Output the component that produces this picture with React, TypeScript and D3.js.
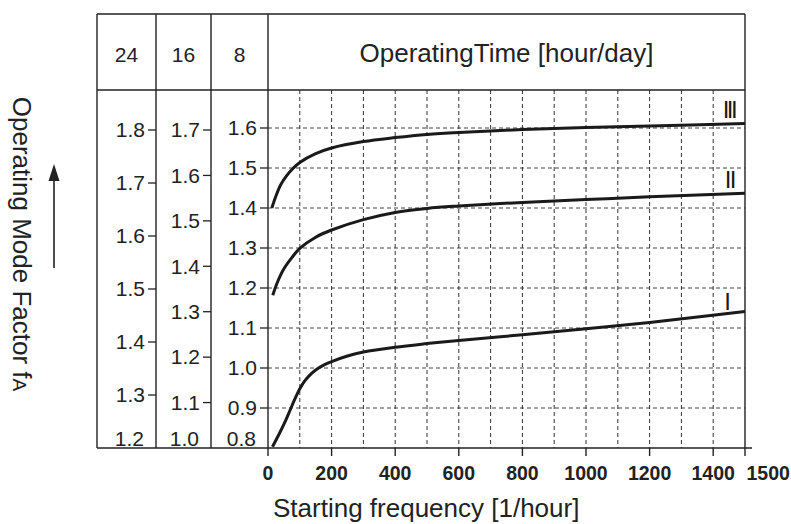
import React from "react";
import * as d3 from "d3";

// ---- data ----
const hoursColumns = ["24", "16", "8"];
const ticks24 = [1.2, 1.3, 1.4, 1.5, 1.6, 1.7, 1.8];
const ticks16 = [1.0, 1.1, 1.2, 1.3, 1.4, 1.5, 1.6, 1.7];
const ticks8 = [0.8, 0.9, 1.0, 1.1, 1.2, 1.3, 1.4, 1.5, 1.6];
const xLabelTicks = [0, 200, 400, 600, 800, 1000, 1200, 1400, 1500];
const xGridTicks = [100, 200, 300, 400, 500, 600, 700, 800, 900, 1000, 1100, 1200, 1300, 1400];

const freqI = [14, 35, 55, 75, 90, 100, 115, 130, 150, 175, 200, 250, 300, 400, 500, 600, 800, 1000, 1200, 1500];
const fI = [0.803, 0.835, 0.868, 0.905, 0.932, 0.948, 0.967, 0.981, 0.995, 1.007, 1.016, 1.03, 1.04, 1.052, 1.061, 1.069, 1.083, 1.098, 1.114, 1.141];
const freqII = [15, 30, 50, 75, 100, 150, 200, 300, 400, 500, 600, 800, 1000, 1200, 1500];
const fII = [1.182, 1.215, 1.248, 1.276, 1.299, 1.327, 1.345, 1.371, 1.389, 1.399, 1.405, 1.414, 1.421, 1.428, 1.437];
const freqIII = [12, 25, 40, 60, 80, 100, 150, 200, 300, 400, 500, 600, 800, 1000, 1200, 1500];
const fIII = [1.4, 1.43, 1.458, 1.482, 1.5, 1.514, 1.536, 1.55, 1.566, 1.576, 1.584, 1.589, 1.596, 1.601, 1.605, 1.611];
const curveNames = ["I", "II", "III"];

const FONT = "'Liberation Sans', Arial, Helvetica, sans-serif";

export default function App() {
  const W = 791, H = 524;
  const left = 97, top = 14, headerBottom = 90, bottom = 448;
  const col1 = 156, col2 = 211;
  const x = d3.scaleLinear().domain([0, 1500]).range([268, 745]);
  const plotL = x(0), plotR = x(1500);
  const y8 = d3.scaleLinear().domain([0.8, 1.6]).range([bottom, 128]);
  const y16 = d3.scaleLinear().domain([1.0, 1.7]).range([bottom, 130]);
  const y24 = d3.scaleLinear().domain([1.2, 1.8]).range([bottom, 130]);

  const line = d3
    .line<[number, number]>()
    .x((d) => x(d[0]))
    .y((d) => y8(d[1]))
    .curve(d3.curveCatmullRom.alpha(0.5));

  const curves = [
    { name: curveNames[0], pts: freqI.map((f, i) => [f, fI[i]] as [number, number]), lx: 731, ly: 310, ls: 0 },
    { name: curveNames[1], pts: freqII.map((f, i) => [f, fII[i]] as [number, number]), lx: 735, ly: 188, ls: -1.5 },
    { name: curveNames[2], pts: freqIII.map((f, i) => [f, fIII[i]] as [number, number]), lx: 735, ly: 118, ls: -2.6 },
  ];

  const axisCols = [
    { ticks: ticks24, scale: y24, right: col1 },
    { ticks: ticks16, scale: y16, right: col2 },
    { ticks: ticks8, scale: y8, right: plotL },
  ];
  const colCenters = [(left + col1) / 2, (col1 + col2) / 2, (col2 + plotL) / 2];
  const stroke = "#222";

  return (
    <svg width={W} height={H} style={{ position: "absolute", left: 0, top: 0, background: "#fff" }} fontFamily={FONT}>
      <rect x={0} y={0} width={W} height={H} fill="#fff" />
      {/* grid */}
      {ticks8.slice(1).map((t) => (
        <line key={"hg" + t} x1={plotL} x2={plotR} y1={y8(t)} y2={y8(t)} stroke="#444" strokeWidth={1} strokeDasharray="4,3" />
      ))}
      {xGridTicks.map((t) => (
        <line key={"vg" + t} x1={x(t)} x2={x(t)} y1={headerBottom} y2={bottom} stroke="#333" strokeWidth={1} strokeDasharray="4,3" />
      ))}
      {/* frame */}
      <line x1={left} x2={plotR} y1={top} y2={top} stroke={stroke} strokeWidth={1.4} />
      <line x1={left} x2={plotR} y1={headerBottom} y2={headerBottom} stroke={stroke} strokeWidth={1.4} />
      <line x1={left} x2={752} y1={bottom} y2={bottom} stroke={stroke} strokeWidth={1.4} />
      {[left, col1, col2, plotL, plotR].map((xx, i) => (
        <line key={"v" + i} x1={xx} x2={xx} y1={top} y2={bottom} stroke={stroke} strokeWidth={1.4} />
      ))}
      {/* header */}
      {hoursColumns.map((h, i) => (
        <text key={h} x={colCenters[i]} y={62} fontSize={21} textAnchor="middle" fill="#222">{h}</text>
      ))}
      <text x={(plotL + plotR) / 2} y={62} fontSize={26} textAnchor="middle" fill="#222">OperatingTime [hour/day]</text>
      {/* y axes */}
      {axisCols.map((c, ci) => (
        <g key={"ax" + ci}>
          {c.ticks.map((t, ti) =>
            ti === 0 ? (
              <text key={t} x={c.right - 12} y={bottom - 2} fontSize={21} textAnchor="end" fill="#222">{t.toFixed(1)}</text>
            ) : (
              <g key={t}>
                <line x1={c.right - 8} x2={c.right} y1={c.scale(t)} y2={c.scale(t)} stroke={stroke} strokeWidth={1.3} />
                <text x={c.right - 11} y={c.scale(t)} dy="0.35em" fontSize={21} textAnchor="end" fill="#222">{t.toFixed(1)}</text>
              </g>
            )
          )}
        </g>
      ))}
      {/* x axis */}
      {xLabelTicks.map((t) => (
        <g key={"xt" + t}>
          <line x1={x(t)} x2={x(t)} y1={bottom} y2={bottom + 8} stroke={stroke} strokeWidth={1.4} />
          <text
            x={t === 1500 ? x(t) + 1.5 : x(t)}
            y={480}
            fontSize={19.5}
            fontWeight="bold"
            textAnchor={t === 1500 ? "start" : "middle"}
            fill="#222"
          >
            {t}
          </text>
        </g>
      ))}
      <text x={273} y={517} fontSize={26} fill="#222">Starting frequency [1/hour]</text>
      {/* y title + arrow */}
      <text transform="translate(13,244) rotate(90)" fontSize={26} textAnchor="middle" fill="#222">
        Operating Mode Factor f<tspan fontSize={19}>A</tspan>
      </text>
      <line x1={54} x2={54} y1={268} y2={178} stroke="#222" strokeWidth={1.6} />
      <path d="M54,164 L48.5,181 L59.5,181 Z" fill="#222" />
      {/* curves */}
      {curves.map((c) => (
        <g key={c.name}>
          <path d={line(c.pts) || ""} fill="none" stroke="#1a1a1a" strokeWidth={3} />
          <text x={c.lx} y={c.ly} fontSize={24} textAnchor="end" letterSpacing={c.ls} fill="#1a1a1a">{c.name}</text>
        </g>
      ))}
    </svg>
  );
}
